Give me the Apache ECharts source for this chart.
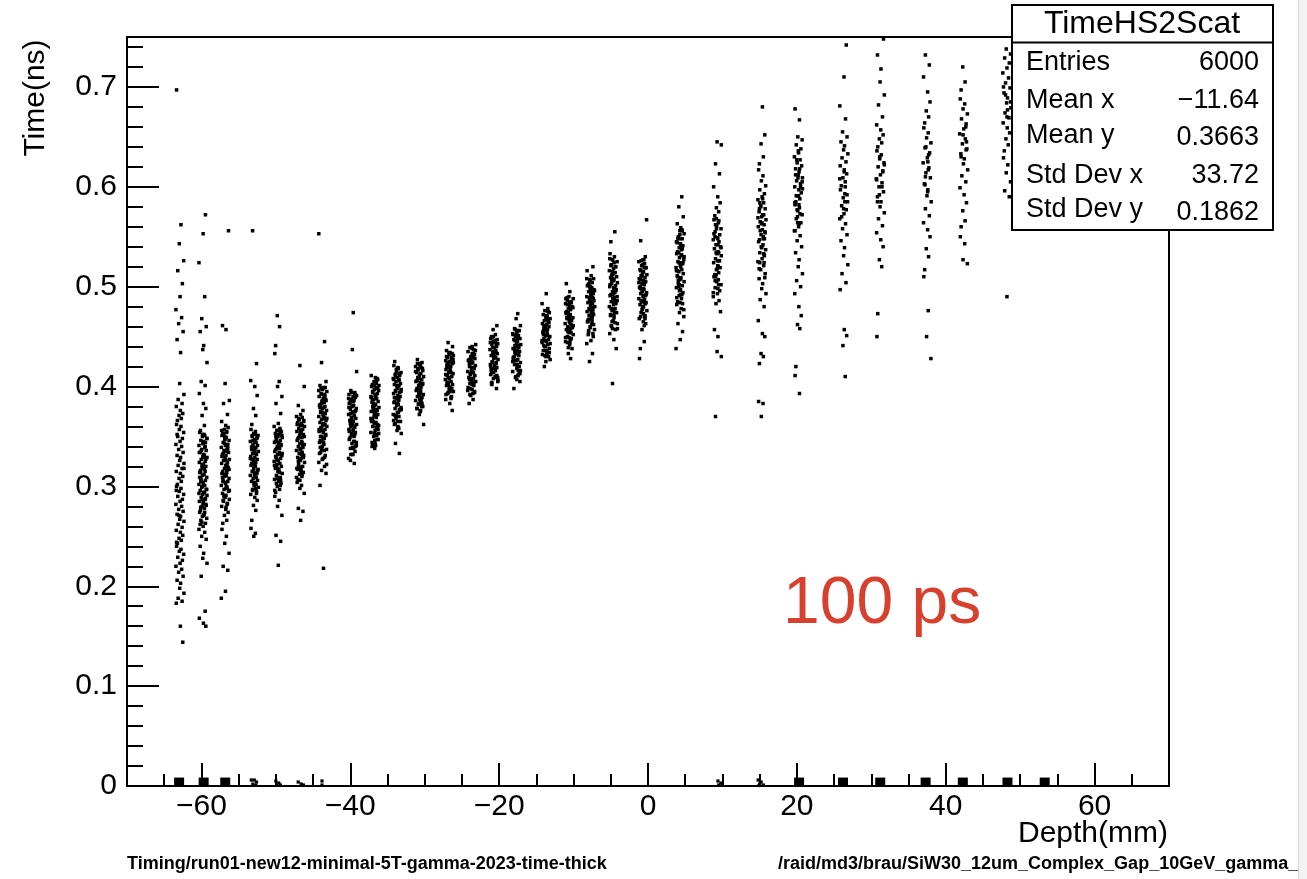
<!DOCTYPE html>
<html><head><meta charset="utf-8">
<script src="https://cdn.jsdelivr.net/npm/echarts@6/dist/echarts.min.js"></script>
<style>html,body{margin:0;padding:0;background:#fff}#c{width:1307px;height:879px}</style>
</head><body><div id="c"></div>
<script>
// Layer depths (mm) of the hit columns
const depthMm = [-62.9,-59.8,-56.8,-52.9,-49.7,-46.7,-43.7,-39.7,-36.7,-33.7,-30.7,-26.7,-23.7,-20.7,-17.65,-13.7,-10.6,-7.7,-4.66,-0.7,4.3,9.3,15.3,20.2,26.3,31.2,37.5,42.4,48.2];
// Hit times per layer, in ps
const timePs = [
[697,562,543,526,516,503,490,477,469,463,455,447,434,403,392,387,383,380,376,373,371,368,366,362,360,357,354,350,348,345,342,340,337,334,331,329,326,323,321,318,315,313,310,308,305,302,300,298,295,292,290,287,285,282,280,277,275,272,270,267,265,262,259,256,254,251,248,246,243,240,237,235,232,229,226,223,220,217,214,210,206,203,198,193,188,185,183,160,144],
[572,553,524,490,468,460,455,441,437,424,405,401,393,383,378,371,361,356,354,352,350,348,346,344,343,341,339,337,336,334,332,330,329,327,325,324,322,320,319,317,316,314,312,311,309,307,306,304,302,301,299,297,296,294,292,291,289,287,285,284,282,280,278,276,274,272,270,268,266,263,260,257,254,250,247,240,233,228,223,210,175,168,163,160],
[556,461,457,403,386,383,372,365,361,359,357,355,353,351,349,347,346,344,342,341,339,337,336,334,332,331,329,327,326,324,323,321,319,318,316,315,313,311,310,308,306,305,303,301,299,297,295,293,291,289,287,285,283,280,277,274,271,266,263,257,250,243,233,220,216,195,188],
[556,423,406,400,391,378,371,362,357,355,353,351,350,348,347,345,344,342,341,339,338,336,335,333,332,330,329,327,326,324,323,321,320,318,317,315,314,312,311,309,308,306,305,303,301,299,297,295,292,289,286,281,276,266,258,253,250],
[471,460,441,433,405,400,390,383,373,363,360,358,356,355,353,352,350,349,347,346,344,343,341,340,338,337,335,334,332,331,329,328,326,325,323,322,320,318,317,315,313,311,309,307,305,303,300,297,294,290,286,280,271,251,245,221],
[421,400,381,376,372,370,369,367,366,364,363,361,360,358,357,355,354,352,351,349,348,346,345,343,342,340,339,337,336,334,333,331,329,328,326,324,322,320,318,316,314,312,310,307,304,301,298,293,278,275,266],
[553,445,424,405,401,399,397,395,393,391,390,388,387,385,384,382,381,379,378,376,375,373,372,370,369,367,366,364,363,361,360,358,357,355,354,352,350,348,346,344,342,340,337,334,331,328,324,320,316,313,301,218],
[474,437,415,396,394,392,390,389,387,386,384,383,381,380,378,377,375,374,372,371,369,368,366,365,363,362,360,359,357,356,354,353,351,349,347,345,343,341,338,335,332,328,323],
[411,409,407,405,403,402,400,399,397,396,394,393,391,390,388,387,385,384,382,381,379,378,376,375,373,372,370,369,367,366,364,363,361,360,358,356,354,352,350,347,344,341,338],
[425,421,418,416,414,412,411,409,408,406,405,403,402,400,399,397,396,394,393,391,390,388,387,385,384,382,381,379,378,376,374,372,370,368,365,362,359,356,353,343,333],
[427,424,422,420,419,417,416,414,413,411,410,408,407,405,404,402,401,399,398,396,395,393,392,390,389,387,386,384,382,380,378,375,372,362],
[444,440,436,434,432,431,429,428,426,425,423,422,420,419,417,416,414,413,411,410,408,407,405,404,402,401,399,397,395,393,390,387,383,376],
[442,439,437,435,433,432,430,429,427,426,424,423,421,420,418,417,415,414,412,411,409,408,406,405,403,401,399,397,394,391,387,383],
[461,457,452,450,448,446,445,443,442,440,439,437,436,434,433,431,430,428,427,425,424,422,421,419,418,416,414,412,410,408,405,402,398],
[473,468,461,458,456,454,453,451,450,448,447,445,444,442,441,439,438,436,435,433,432,430,429,427,426,424,422,420,418,415,412,409,405,398],
[493,483,478,476,474,472,471,469,468,466,465,463,462,460,459,457,456,454,453,451,450,448,447,445,444,442,440,438,436,433,430,427,420],
[503,495,490,488,486,484,483,481,480,478,477,475,474,472,471,469,468,466,465,463,462,460,459,457,456,454,452,450,448,445,442,438,433,428],
[520,516,511,508,506,504,502,501,499,498,496,495,493,492,490,489,487,486,484,483,481,480,478,477,475,474,472,471,469,467,465,463,460,457,454,450,446,443,433,425],
[555,545,533,530,527,525,522,520,518,516,514,512,510,509,507,506,504,503,501,500,498,497,495,494,492,491,489,488,486,485,483,482,480,478,476,474,472,469,466,463,460,457,453,447,438,403],
[567,546,530,527,525,523,521,519,517,515,514,512,511,509,508,506,505,503,502,500,499,497,496,494,493,491,490,488,487,485,484,482,480,478,476,474,471,468,465,463,457,445,438,428],
[590,580,570,563,559,556,553,550,548,545,543,541,539,537,535,533,531,529,527,525,523,521,519,517,515,513,511,509,507,505,503,501,499,497,494,491,488,485,482,478,474,470,463,455,447,438],
[645,642,623,613,600,590,584,579,575,571,567,564,561,558,555,552,549,547,545,542,540,538,535,533,531,528,526,524,521,519,517,514,512,510,507,505,502,499,496,493,490,486,483,475,457,450,435,430,370],
[680,652,643,630,623,617,611,606,601,597,593,590,587,584,581,578,575,572,570,567,565,562,560,557,555,552,550,547,545,542,540,537,534,531,528,525,521,517,513,508,503,498,493,487,480,466,453,450,433,430,423,385,383,370],
[678,667,650,647,642,638,634,630,627,624,621,618,615,612,609,606,603,600,597,594,591,588,585,582,579,576,572,568,564,560,556,551,546,540,534,527,520,513,506,500,493,480,471,462,458,420,411,393],
[742,710,681,668,655,650,645,641,637,633,629,625,621,617,613,609,605,601,597,593,589,585,581,577,573,568,563,558,552,546,539,531,522,513,504,497,457,451,441,410],
[748,732,718,705,692,682,670,662,657,652,648,644,640,636,632,628,624,620,616,612,608,604,600,595,590,585,580,574,568,561,554,547,540,527,520,473,450],
[732,722,710,695,685,676,670,664,659,654,649,644,639,634,629,624,619,614,609,603,597,591,585,578,571,564,557,550,538,530,517,510,476,450,428],
[720,705,697,688,683,678,673,668,663,658,653,648,643,638,633,628,623,617,611,605,599,592,584,576,566,560,550,543,527,523],
[738,733,729,724,719,714,709,704,699,694,689,684,679,674,669,664,659,654,648,642,636,629,622,614,605,596,590,490]
];
// Extra hits in the cores of each layer (ps), same layer order
const coreExtraPs = [
[352,318,296,271,244],
[345,331,318,305,293,281,352,340,327,314,300,288,274,262,348,334,321,309,297,283],
[350,338,322,309,296,356,343,330,317,304,291,279,353,335,314,300,286],
[346,334,322,310,298,352,340,328,316,304,293,349,337,325,313,302],
[354,342,330,318,306,357,345,333,321,309,296,351,339,327,315,303],
[362,350,338,327,315,368,356,344,332,320,309,365,353,341,329,317,306],
[396,386,374,362,351,339,327,399,389,379,368,357,345,333,322,392,383,371,359,348,336],
[391,379,367,355,344,332,394,385,373,361,350,338,326,388,376,364,352,340],
[404,392,380,368,357,346,408,398,386,374,362,351,340,401,389,377,365,353,343],
[413,401,389,377,366,417,407,395,383,371,360,410,398,386,374,363],
[421,409,397,385,376,423,415,403,391,380,418,406,394,383],
[433,421,409,398,388,430,424,412,401,392,427,415,404,395],
[436,425,413,402,392,440,431,419,407,396,428,416,404,395],
[447,435,423,411,403,450,441,429,417,406,444,432,420,409],
[452,440,428,416,407,457,446,434,422,411,449,437,425,413],
[470,458,446,434,425,475,464,452,440,430,467,455,443,432],
[485,473,461,449,439,488,479,467,455,444,482,470,458,447],
[503,491,479,468,456,508,497,485,473,462,452,500,488,476,465],
[521,508,496,484,471,458,528,515,502,490,477,465,524,511,499,486,474,461],
[522,510,498,486,473,461,527,516,504,492,480,468,519,507,495,483,470],
[552,538,524,510,496,483,557,544,530,516,502,489,477,548,534,520,506,492],
[568,553,539,526,512,498,562,548,534,520,506,494],
[584,569,554,539,524,509,578,563,548,533,518],
[612,598,584,570,556,605,591,577,563],
[615,600,585,570,608,592,578],
[630,615,600,585,622,607,592],
[640,625,610,595,632,617,602],
[660,645,630,652,637],
[700,685,670,692,677]
];
// Hits in the narrow centre of the densest cores (ps), same layer order
const coreDensePs = [
[],
[351,343,336,329,322,315,308,301,294,287,279,271,264],
[354,347,340,333,326,319,312,305,298,290,282],
[351,345,339,333,327,321,315,309,303,296],
[356,350,344,338,332,326,320,314,308,301],
[367,361,355,349,343,337,331,325,319,312],
[398,392,386,380,374,368,362,356,350,344,337,329],
[393,387,381,375,369,363,357,351,345,339,332],
[407,401,395,389,383,377,371,365,359,353,347,341],
[419,413,407,401,395,389,383,377,371,365,358],
[423,418,413,408,403,398,393,388,383,378],
[434,429,424,419,414,409,404,399,394,389],
[438,433,428,423,418,413,408,403,398,393],
[449,444,439,434,429,424,419,414,409,404],
[456,451,446,441,436,431,426,421,416,410],
[476,471,466,461,456,451,446,441,436,431],
[489,484,479,474,469,464,459,454,449,444],
[507,501,495,489,483,477,471,465,459,453],
[527,520,513,506,499,492,485,478,471,464,458],
[526,519,512,505,498,491,484,477,470],
[556,548,540,532,524,516,508,500,492,484],
[566,558,550,542,534,526,518,510,502],
[588,580,572,564,556,548,540,532,524],
[636,627,618,609,600,591,582,573,564],
[],[],[],[],[]
];
// Dense clusters of zero-time hits (drawn as filled blocks)
const zeroBlockDepth = [-63.0,-59.7,-56.8,20.3,26.2,31.2,37.3,42.3,48.3,53.3];
// Sparse zero-time hits [depth mm, time ns]
const zeroSparse = [[-53.3,0.006],[-52.9,0.006],[-52.6,0.004],[-53.1,0.002],[-52.7,0.001],[-50.0,0.005],[-49.6,0.003],[-49.9,0.001],[-49.4,0.001],[-47.0,0.004],[-46.6,0.002],[-46.3,0.001],[-43.8,0.005],[-43.8,0.001],[9.4,0.005],[9.8,0.003],[9.5,0.001],[10.0,0.001],[14.8,0.006],[15.2,0.004],[15.0,0.002],[15.5,0.001],[14.9,0.0005]];
// Typed horizontal spread of hits inside a layer (mm)
const jitterMm = [-0.44,0.15,-0.07,0.51,-0.28,0.34,0.03,-0.53,0.24,-0.16,0.44,-0.37,0.10,-0.02,0.55,-0.23,0.30,-0.48,0.07,0.39,-0.11,0.20,-0.33];
const jitterCoreMm = [-0.3,0.1,-0.15,0.25,0,-0.22,0.18,-0.05,0.3,-0.28,0.08,0.22,-0.1];
const xMajorTicks = [-60,-40,-20,0,20,40,60];
const xMinorTicks = [-65,-60,-55,-50,-45,-40,-35,-30,-25,-20,-15,-10,-5,0,5,10,15,20,25,30,35,40,45,50,55,60,65];
const yMajorTicks = [0,0.1,0.2,0.3,0.4,0.5,0.6,0.7];
const yMinorTicks = [0.02,0.04,0.06,0.08,0.12,0.14,0.16,0.18,0.22,0.24,0.26,0.28,0.32,0.34,0.36,0.38,0.42,0.44,0.46,0.48,0.52,0.54,0.56,0.58,0.62,0.64,0.66,0.68,0.72,0.74];
const statsTitle = 'TimeHS2Scat';
const statsLabels = ['Entries','Mean x','Mean y','Std Dev x','Std Dev y'];
const statsValues = ['6000','\u221211.64','0.3663','33.72','0.1862'];

const FONT = '"Liberation Sans", Arial, Helvetica, sans-serif';
const mainPoints = [];
depthMm.forEach((d, i) => {
  timePs[i].forEach((t, j) => {
    mainPoints.push([d + jitterMm[(i * 5 + j) % jitterMm.length], t / 1000]);
  });
  coreExtraPs[i].forEach((t, j) => {
    mainPoints.push([d + jitterMm[(i * 7 + j * 3 + 11) % jitterMm.length], t / 1000]);
  });
  coreDensePs[i].forEach((t, j) => {
    mainPoints.push([d + jitterCoreMm[(i * 3 + j) % jitterCoreMm.length], t / 1000]);
  });
});

function txt(x, y, text, size, align, opts) {
  opts = opts || {};
  return Object.assign({
    type: 'text', x: x, y: y, z: 120,
    style: {
      text: text, fill: opts.fill || '#000',
      font: (opts.weight || 'normal') + ' ' + size + 'px ' + FONT,
      align: align, textAlign: align,
      verticalAlign: 'middle', textVerticalAlign: 'middle'
    }
  }, opts.rotation !== undefined ? { rotation: opts.rotation } : {});
}

const graphics = [];
// stats box
graphics.push({ type: 'rect', z: 110, shape: { x: 1012, y: 5, width: 261, height: 225 }, style: { fill: '#fff', stroke: '#000', lineWidth: 2 } });
graphics.push({ type: 'line', z: 111, shape: { x1: 1012, y1: 42.5, x2: 1273, y2: 42.5 }, style: { stroke: '#000', lineWidth: 2 } });
graphics.push(txt(1142, 24.5, statsTitle, 32, 'center'));
const labelY = [62.5, 101, 136, 176, 210];
const valueY = [62.5, 101, 138, 176, 213];
statsLabels.forEach((l, i) => graphics.push(txt(1026, labelY[i], l, 27, 'left')));
statsValues.forEach((v, i) => graphics.push(txt(1259, valueY[i], v, 27, 'right')));
// annotation
graphics.push(txt(783, 604.5, '100 ps', 66, 'left', { fill: '#d8402e' }));
// axis titles
graphics.push(txt(1168, 834, 'Depth(mm)', 30, 'right'));
graphics.push(txt(36, 98, 'Time(ns)', 30, 'center', { rotation: Math.PI / 2 }));
// footers
graphics.push(txt(127, 864, 'Timing/run01-new12-minimal-5T-gamma-2023-time-thick', 18, 'left', { weight: 'bold' }));
graphics.push(txt(778, 864, '/raid/md3/brau/SiW30_12um_Complex_Gap_10GeV_gamma_', 18, 'left', { weight: 'bold' }));
graphics.push({ type: 'rect', z: 130, shape: { x: 1298, y: 0, width: 9, height: 879 }, style: { fill: '#f3f3f3', stroke: null } });
graphics.push({ type: 'line', z: 131, shape: { x1: 1298.5, y1: 0, x2: 1298.5, y2: 879 }, style: { stroke: '#d6d6d6', lineWidth: 1 } });

const axisCommon = { splitLine: { show: false }, splitArea: { show: false } };
const pointStyle = { color: '#000', opacity: 1 };
const option = {
  animation: false,
  backgroundColor: '#fff',
  grid: { left: 127, top: 37, width: 1042, height: 749, show: true, borderColor: '#000', borderWidth: 2, backgroundColor: 'transparent' },
  xAxis: [
    Object.assign({
      type: 'value', min: -70, max: 70, position: 'bottom',
      axisLine: { show: true, onZero: false, lineStyle: { color: '#000', width: 2 } },
      axisTick: { show: true, inside: true, length: 23, customValues: xMajorTicks, lineStyle: { color: '#000', width: 2 } },
      axisLabel: { show: true, customValues: xMajorTicks, color: '#000', fontSize: 30, fontFamily: FONT, margin: 6,
        formatter: v => String(v).replace('-', '\u2212') }
    }, axisCommon),
    Object.assign({
      type: 'value', min: -70, max: 70, position: 'bottom', offset: 0,
      axisLine: { show: false, onZero: false },
      axisTick: { show: true, inside: true, length: 12, customValues: xMinorTicks, lineStyle: { color: '#000', width: 2 } },
      axisLabel: { show: false }
    }, axisCommon)
  ],
  yAxis: [
    Object.assign({
      type: 'value', min: 0, max: 0.75, position: 'left',
      axisLine: { show: true, onZero: false, lineStyle: { color: '#000', width: 2 } },
      axisTick: { show: true, inside: true, length: 32, customValues: yMajorTicks, lineStyle: { color: '#000', width: 2 } },
      axisLabel: { show: true, customValues: yMajorTicks, color: '#000', fontSize: 30, fontFamily: FONT, margin: 10,
        formatter: v => (v === 0 ? '0' : v.toFixed(1)) }
    }, axisCommon),
    Object.assign({
      type: 'value', min: 0, max: 0.75, position: 'left', offset: 0,
      axisLine: { show: false, onZero: false },
      axisTick: { show: true, inside: true, length: 16, customValues: yMinorTicks, lineStyle: { color: '#000', width: 2 } },
      axisLabel: { show: false }
    }, axisCommon)
  ],
  series: [
    { type: 'scatter', xAxisIndex: 0, yAxisIndex: 0, data: mainPoints, symbol: 'rect', symbolSize: 3.5, itemStyle: pointStyle, clip: true, silent: true },
    { type: 'scatter', xAxisIndex: 0, yAxisIndex: 0, data: zeroBlockDepth.map(x => [x, 0.0042]), symbol: 'rect', symbolSize: [10, 8.5], itemStyle: pointStyle, silent: true },
    { type: 'scatter', xAxisIndex: 0, yAxisIndex: 0, data: zeroSparse, symbol: 'rect', symbolSize: 3.2, itemStyle: pointStyle, silent: true }
  ],
  graphic: graphics
};
const chart = echarts.init(document.getElementById('c'), null, { renderer: 'canvas' });
chart.setOption(option);
</script>
</body></html>
